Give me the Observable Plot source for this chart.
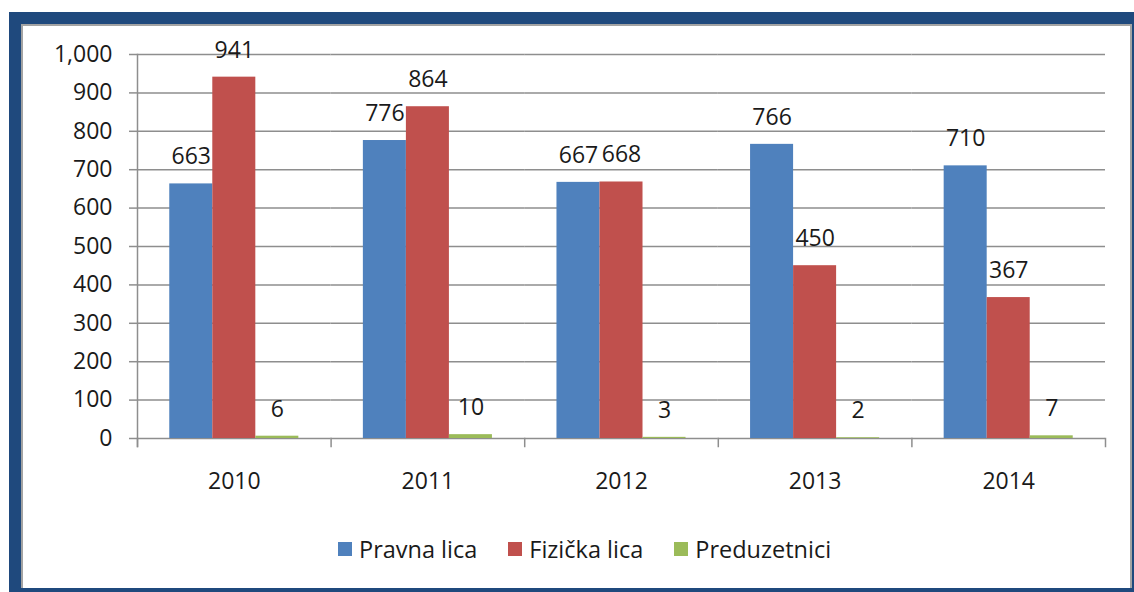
<!DOCTYPE html>
<html>
<head>
<meta charset="utf-8">
<script src="https://cdn.jsdelivr.net/npm/d3@7"></script>
<script src="https://cdn.jsdelivr.net/npm/@observablehq/plot@0.6"></script>
<style>
  body { margin: 0; background: #fff; font-family: "Open Sans", sans-serif; }
  #outer { position: absolute; left: 9px; top: 12px; width: 1125px; height: 580px; background: #1f497d; }
  #inner { position: absolute; left: 21px; top: 24px; width: 1111px; height: 564px; background: #fff;
           box-sizing: border-box; border-left: 2px solid #a3a3a3; border-top: 2px solid #a3a3a3; border-right: 2px solid #a3a3a3; }
  #chart { position: absolute; left: 21px; top: 24px; }
  #legend { position: absolute; left: 338px; top: 533px; display: flex; align-items: center; font-size: 23.5px; color: #1a1a1a; white-space: nowrap; }
  .item { display: flex; align-items: center; margin-right: 31px; }
  .sw { width: 14px; height: 14px; margin-right: 7px; }
</style>
</head>
<body>
<div id="outer"></div>
<div id="inner"></div>
<div id="chart"></div>
<div id="legend"></div>
<script>
const years = ["2010", "2011", "2012", "2013", "2014"];
const series = ["Pravna lica", "Fizička lica", "Preduzetnici"];
const pravna = [663, 776, 667, 766, 710];
const fizicka = [941, 864, 668, 450, 367];
const preduzetnici = [6, 10, 3, 2, 7];
const colors = ["#4f81bd", "#c0504d", "#9bbb59"];
const yTicks = [0, 100, 200, 300, 400, 500, 600, 700, 800, 900, 1000];

const seriesValues = [pravna, fizicka, preduzetnici];
const data = [];
years.forEach((y, i) => {
  series.forEach((s, j) => data.push({year: y, series: s, value: seriesValues[j][i]}));
});

const gray = "#8e8e8e";
const chart = Plot.plot({
  width: 1111,
  height: 500,
  marginLeft: 116,
  marginRight: 27,
  marginTop: 30,
  marginBottom: 86,
  style: {fontFamily: "'Open Sans', sans-serif", fontSize: "23px", color: "#1a1a1a", background: "transparent", overflow: "visible"},
  fx: {domain: years, padding: 0, round: false, label: null},
  x: {domain: series, paddingInner: 0, paddingOuter: 0.75, round: false, axis: null},
  y: {domain: [0, 1000], label: null},
  color: {domain: series, range: colors},
  marks: [
    Plot.gridY(yTicks, {stroke: gray, strokeOpacity: 1, strokeWidth: 1.5}),
    Plot.frame({anchor: "left", facetAnchor: "left", stroke: gray, strokeWidth: 1.5, insetBottom: -8}),
    Plot.frame({anchor: "left", stroke: gray, strokeWidth: 1.5, insetTop: 384, insetBottom: -8}),
    Plot.frame({anchor: "right", facetAnchor: "right", stroke: gray, strokeWidth: 1.5, insetTop: 384, insetBottom: -8}),
    Plot.axisY(yTicks, {tickSize: 8, tickPadding: 17, tickFormat: d3.format(","), stroke: gray, strokeWidth: 1.5, fill: "#1a1a1a", label: null, fontSize: 23}),
    Plot.axisFx({anchor: "bottom", tickSize: 0, tickPadding: 34, label: null, fontSize: 23, fill: "#1a1a1a"}),
    Plot.barY(data, {fx: "year", x: "series", y: "value", fill: "series"}),
    Plot.text(data, {fx: "year", x: "series", y: "value", text: d => String(d.value), dy: -27, lineAnchor: "middle", fontSize: 23, fill: "#1a1a1a"})
  ]
});
document.getElementById("chart").appendChild(chart);

const legend = document.getElementById("legend");
series.forEach((s, i) => {
  const item = document.createElement("div");
  item.className = "item";
  const sw = document.createElement("div");
  sw.className = "sw";
  sw.style.background = colors[i];
  const t = document.createElement("span");
  t.textContent = s;
  item.appendChild(sw);
  item.appendChild(t);
  legend.appendChild(item);
});
</script>
</body>
</html>
